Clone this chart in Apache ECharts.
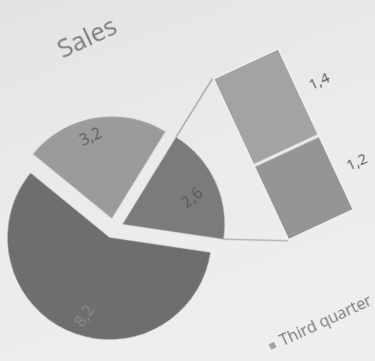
<!DOCTYPE html>
<html>
<head>
<meta charset="utf-8">
<script src="https://cdn.jsdelivr.net/npm/echarts@6/dist/echarts.min.js"></script>
<style>
  html, body { margin: 0; padding: 0; width: 375px; height: 361px; overflow: hidden;
    background: linear-gradient(160deg, #e3e3e3 0%, #ebebeb 45%, #efefef 100%); }
  #c { position: absolute; left: -92.5px; top: -99.5px; width: 560px; height: 560px;
    transform: rotate(-25deg); filter: blur(0.5px); }
</style>
</head>
<body>
<div id="c"></div>
<script>
// ---- data ----
const titleText = 'Sales';
const categories = ['First quarter', 'Second quarter', 'Third quarter', 'Fourth quarter'];
const values = [8.2, 3.2, 1.4, 1.2];
const otherName = 'Other';
const legendItems = ['Third quarter', 'Fourth quarter'];

// ---- layout (px inside the rotated container) ----
const CX = 192.5, CY = 291.5, R = 102, OFFSET = 10;
const GX = 345.5, GY = 197.5, GW = 73, GH = 179;
const labelAdjust = [[-12, 11], [-3, -5], [-7, -1]];   // per slice fine tuning of label position

const fmt = v => String(Number(Number(v).toFixed(1))).replace('.', ',');
const otherValue = Number((values[2] + values[3]).toFixed(1));
const total = values[0] + values[1] + otherValue;
const halfOther = 180 * otherValue / total;       // degrees
const startAngle = halfOther;

const pieData = [
  { name: otherName, value: otherValue, selected: true,
    itemStyle: { color: '#7b7b7b' }, label: { color: '#555', rotate: 15 } },
  { name: categories[0], value: values[0], selected: true,
    itemStyle: { color: '#6e6e6e' }, label: { color: '#8c8c8c', rotate: 30 } },
  { name: categories[1], value: values[1], selected: true,
    itemStyle: { color: '#9b9b9b' }, label: { color: '#5a5a5a' } }
];

// mid angle of every slice (degrees, counter-clockwise from +x)
const mids = [];
(function () {
  let a = startAngle;
  pieData.forEach(d => {
    const span = 360 * d.value / total;
    mids.push(a - span / 2);
    a -= span;
  });
})();

const rad = halfOther * Math.PI / 180;
const vx = CX + OFFSET;
const upper = [vx + R * Math.cos(rad), CY - R * Math.sin(rad)];
const lower = [vx + R * Math.cos(rad), CY + R * Math.sin(rad)];

const chart = echarts.init(document.getElementById('c'), null, { renderer: 'canvas' });
chart.setOption({
  animation: false,
  backgroundColor: 'transparent',
  title: {
    text: titleText, left: 213, top: 91,
    textStyle: { fontFamily: 'Open Sans', fontSize: 26, fontWeight: 'normal', color: '#7c7c7c' }
  },
  legend: {
    data: legendItems, left: 277, top: 452, icon: 'rect', itemWidth: 8, itemHeight: 8,
    itemGap: 10, selectedMode: false,
    textStyle: { fontFamily: 'Open Sans', fontSize: 16, color: '#777' }
  },
  grid: { left: GX, top: GY, width: GW, height: GH },
  xAxis: { type: 'category', data: [''], show: false },
  yAxis: { type: 'value', min: 0, max: otherValue, show: false },
  series: [
    {
      type: 'pie', center: [CX, CY], radius: [0, R], startAngle: startAngle, clockwise: true,
      selectedMode: 'multiple', selectedOffset: OFFSET, avoidLabelOverlap: false,
      emphasis: { disabled: true },
      label: { show: true, position: 'inside', formatter: p => fmt(p.value),
        fontFamily: 'Open Sans', fontSize: 16 },
      labelLine: { show: false },
      labelLayout: p => {
        const m = mids[p.dataIndex] * Math.PI / 180;
        const adj = labelAdjust[p.dataIndex];
        return { dx: 30 * Math.cos(m) + adj[0], dy: -30 * Math.sin(m) + adj[1] };
      },
      data: pieData
    },
    {
      type: 'bar', name: categories[3], stack: 'other', data: [values[3]], barWidth: '100%',
      itemStyle: { color: '#959595', borderColor: '#efefef', borderWidth: 1.5 },
      label: { show: true, position: 'right', distance: 12, formatter: p => fmt(p.value),
        fontFamily: 'Open Sans', fontSize: 15, color: '#555' },
      emphasis: { disabled: true }
    },
    {
      type: 'bar', name: categories[2], stack: 'other', data: [values[2]], barWidth: '100%',
      itemStyle: { color: '#a3a3a3', borderColor: '#efefef', borderWidth: 1.5 },
      label: { show: true, position: 'right', distance: 12, formatter: p => fmt(p.value),
        fontFamily: 'Open Sans', fontSize: 15, color: '#555' },
      emphasis: { disabled: true }
    }
  ],
  graphic: [
    { type: 'line', silent: true,
      shape: { x1: upper[0], y1: upper[1], x2: GX, y2: GY },
      style: { stroke: '#9a9a9a', lineWidth: 1.2 } },
    { type: 'line', silent: true,
      shape: { x1: lower[0], y1: lower[1], x2: GX, y2: GY + GH },
      style: { stroke: '#a5a5a5', lineWidth: 1.2 } }
  ]
});
</script>
</body>
</html>
